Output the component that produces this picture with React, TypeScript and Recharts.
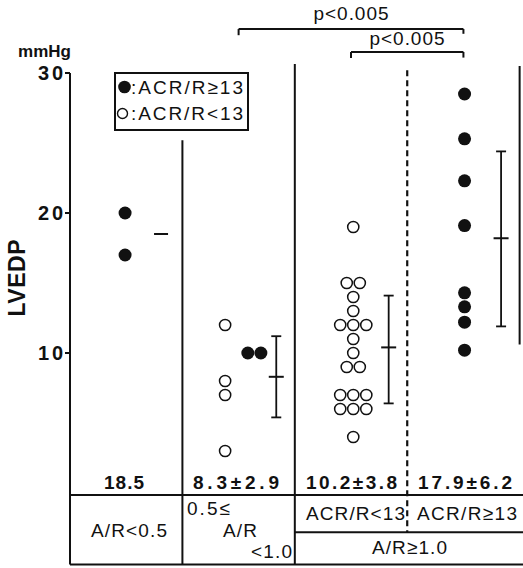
import React from 'react';
import { ScatterChart, Scatter, XAxis, YAxis, ReferenceLine, ErrorBar } from 'recharts';

// ---- data ----
const groupLabels = ['A/R<0.5', '0.5≤ A/R <1.0', 'ACR/R<13', 'ACR/R≥13'];
const summaryLabels = ['18.5', '8.3±2.9', '10.2±3.8', '17.9±6.2'];
const yTicks = [10, 20, 30];

const g1Filled = [20, 17];
const g2Open = [12, 8, 7, 3];
const g2Filled = [10, 10];
const g3Open = [19, 15, 15, 14, 13, 12, 12, 12, 11, 10, 9, 9, 7, 7, 7, 6, 6, 6, 4];
const g4Filled = [28.5, 25.3, 22.3, 19.1, 14.3, 13.3, 12.2, 10.2];

const g1Mean = [18.5];
const barMeans = [8.3, 10.4, 18.2];
const barLows = [5.4, 6.4, 11.9];
const barHighs = [11.2, 14.1, 24.4];

const pLabels = ['p<0.005', 'p<0.005'];

// ---- layout ----
const W = 523;
const H = 568;
const X_MAX = 4.03;
const STEP = 0.116;
const FONT = '"Liberation Sans", Arial, sans-serif';

function swarm(values: number[], center: number) {
  return values.map((v, i) => {
    const n = values.filter((w) => w === v).length;
    const k = values.slice(0, i).filter((w) => w === v).length;
    return { x: center + (k - (n - 1) / 2) * STEP, y: v };
  });
}

const filledPts = [
  ...swarm(g1Filled, 0.49),
  ...swarm(g2Filled, 1.64),
  ...swarm(g4Filled, 3.51),
];
const openPts = [...swarm(g2Open, 1.38), ...swarm(g3Open, 2.52)];
const g1MeanPts = g1Mean.map((m) => ({ x: 0.81, y: m }));
const barPts = barMeans.map((m, i) => ({
  x: i + 1 + 0.835,
  y: m,
  err: [m - barLows[i], barHighs[i] - m],
}));

const TABLE_TOP = -0.15;
const TABLE_MID = -2.8;
const TABLE_BOT = -5.1;

const line = { stroke: '#111', strokeWidth: 2 };

const FilledDot = (p: any) => <circle cx={p.cx} cy={p.cy} r={6.5} fill="#111" />;
const OpenDot = (p: any) => (
  <circle cx={p.cx} cy={p.cy} r={5.6} fill="#fff" stroke="#111" strokeWidth={1.5} />
);
const MeanDash = (w: number) => (p: any) => (
  <line x1={p.cx - w / 2} x2={p.cx + w / 2} y1={p.cy} y2={p.cy} stroke="#111" strokeWidth={2} />
);

const YTick = (p: any) => (
  <text
    x={p.x}
    y={p.y}
    textAnchor="end"
    dominantBaseline="central"
    fontFamily={FONT}
    fontWeight="bold"
    fontSize={20}
    textLength={25}
    fill="#111"
  >
    {p.payload.value}
  </text>
);

const T = (props: any) => (
  <text fontFamily={FONT} fill="#111" fontSize={19} {...props} />
);

export default function App() {
  return (
    <div style={{ position: 'absolute', left: 0, top: 0, width: W, height: H, background: '#fff', fontFamily: FONT }}>
      <ScatterChart width={W} height={H} margin={{ top: 73, right: 0, bottom: 75, left: 0 }}>
        <XAxis type="number" dataKey="x" domain={[0, X_MAX]} hide />
        <YAxis
          type="number"
          dataKey="y"
          domain={[0, 30]}
          ticks={yTicks}
          width={70}
          tickSize={5}
          tickMargin={2}
          tick={<YTick />}
          axisLine={line}
          tickLine={line}
          allowDataOverflow
        />
        {/* y axis extension through table */}
        <ReferenceLine ifOverflow="visible" segment={[{ x: 0, y: 0 }, { x: 0, y: TABLE_BOT }]} {...line} />
        {/* column separators */}
        <ReferenceLine ifOverflow="visible" segment={[{ x: 1, y: 25.2 }, { x: 1, y: TABLE_BOT }]} {...line} />
        <ReferenceLine ifOverflow="visible" segment={[{ x: 2, y: 30.65 }, { x: 2, y: TABLE_BOT }]} {...line} />
        <ReferenceLine ifOverflow="visible" segment={[{ x: 3, y: 30.2 }, { x: 3, y: TABLE_MID }]} stroke="#111" strokeWidth={2.2} strokeDasharray="6 4" />
        <ReferenceLine ifOverflow="visible" segment={[{ x: 4, y: 30.5 }, { x: 4, y: 10.6 }]} {...line} />
        {/* table lines */}
        <ReferenceLine ifOverflow="visible" segment={[{ x: 0, y: TABLE_TOP }, { x: X_MAX, y: TABLE_TOP }]} {...line} />
        <ReferenceLine ifOverflow="visible" segment={[{ x: 2, y: TABLE_MID }, { x: X_MAX, y: TABLE_MID }]} {...line} />
        <ReferenceLine ifOverflow="visible" segment={[{ x: 0, y: TABLE_BOT }, { x: X_MAX, y: TABLE_BOT }]} {...line} />
        {/* significance brackets */}
        <ReferenceLine ifOverflow="visible" segment={[{ x: 1.5, y: 33.14 }, { x: 3.5, y: 33.14 }]} {...line} />
        <ReferenceLine ifOverflow="visible" segment={[{ x: 1.5, y: 33.14 }, { x: 1.5, y: 32.7 }]} {...line} />
        <ReferenceLine ifOverflow="visible" segment={[{ x: 3.5, y: 33.14 }, { x: 3.5, y: 32.8 }]} {...line} />
        <ReferenceLine ifOverflow="visible" segment={[{ x: 2.5, y: 31.5 }, { x: 3.5, y: 31.5 }]} {...line} />
        <ReferenceLine ifOverflow="visible" segment={[{ x: 2.5, y: 31.5 }, { x: 2.5, y: 31.07 }]} {...line} />
        <ReferenceLine ifOverflow="visible" segment={[{ x: 3.5, y: 31.5 }, { x: 3.5, y: 31.1 }]} {...line} />

        <Scatter data={openPts} shape={OpenDot} isAnimationActive={false} />
        <Scatter data={filledPts} shape={FilledDot} isAnimationActive={false} />
        <Scatter data={g1MeanPts} shape={MeanDash(14)} isAnimationActive={false} />
        <Scatter data={barPts} shape={MeanDash(15)} isAnimationActive={false}>
          <ErrorBar dataKey="err" direction="y" width={5} stroke="#111" strokeWidth={1.8} isAnimationActive={false} />
        </Scatter>
      </ScatterChart>

      <svg width={W} height={H} style={{ position: 'absolute', left: 0, top: 0, pointerEvents: 'none' }}>
        <T x={18} y={57} fontWeight="bold" fontSize={17} textLength={53}>mmHg</T>
        <T x={0} y={0} fontWeight="bold" fontSize={23} textAnchor="middle" dominantBaseline="central" textLength={77}
          transform="translate(17,278) rotate(-90)">LVEDP</T>

        {/* legend */}
        <rect x={115} y={73} width={133} height={57} fill="#fff" stroke="#111" strokeWidth={2} />
        <circle cx={124.5} cy={87} r={6.3} fill="#111" />
        <T x={131} y={94} textLength={112}>:ACR/R≥13</T>
        <circle cx={122.5} cy={113.5} r={5} fill="#fff" stroke="#111" strokeWidth={1.4} />
        <T x={131} y={120} textLength={112}>:ACR/R&lt;13</T>

        {/* p-values */}
        <T x={351} y={20} textAnchor="middle" textLength={75}>{pLabels[0]}</T>
        <T x={407} y={45} textAnchor="middle" textLength={75}>{pLabels[1]}</T>

        {/* summaries */}
        <T x={124} y={489} textAnchor="middle" fontWeight="bold" fontSize={19} textLength={40}>{summaryLabels[0]}</T>
        <T x={236} y={489} textAnchor="middle" fontWeight="bold" fontSize={19} textLength={86}>{summaryLabels[1]}</T>
        <T x={351.5} y={489} textAnchor="middle" fontWeight="bold" fontSize={19} textLength={91}>{summaryLabels[2]}</T>
        <T x={465} y={489} textAnchor="middle" fontWeight="bold" fontSize={19} textLength={94}>{summaryLabels[3]}</T>

        {/* table */}
        <T x={129} y={537} textAnchor="middle" textLength={76}>{groupLabels[0]}</T>
        <T x={187} y={515} textLength={43}>0.5≤</T>
        <T x={240} y={537} textAnchor="middle" textLength={34}>A/R</T>
        <T x={292} y={558} textAnchor="end" textLength={41}>&lt;1.0</T>
        <T x={355.5} y={520} textAnchor="middle" textLength={99}>{groupLabels[2]}</T>
        <T x={467} y={520} textAnchor="middle" textLength={100}>{groupLabels[3]}</T>
        <T x={409.5} y={554} textAnchor="middle" textLength={75}>A/R≥1.0</T>
      </svg>
    </div>
  );
}
